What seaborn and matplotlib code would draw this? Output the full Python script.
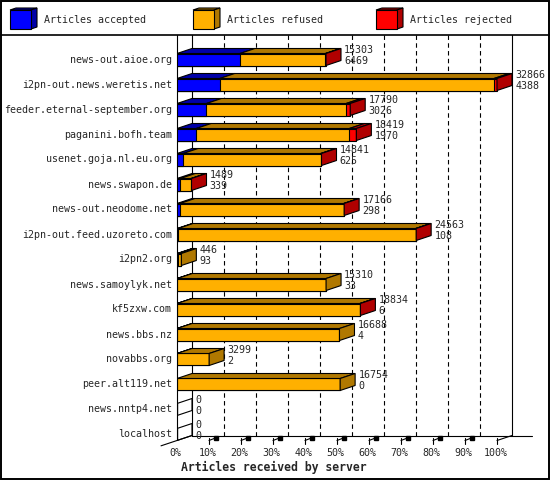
import numpy as np
import matplotlib.pyplot as plt
from matplotlib.patches import Polygon, Rectangle
import seaborn as sns

# Datos (innreport: articulos recibidos por servidor)
servers = ['news-out.aioe.org', 'i2pn-out.news.weretis.net', 'feeder.eternal-september.org',
           'paganini.bofh.team', 'usenet.goja.nl.eu.org', 'news.swapon.de',
           'news-out.neodome.net', 'i2pn-out.feed.uzoreto.com', 'i2pn2.org',
           'news.samoylyk.net', 'kf5zxw.com', 'news.bbs.nz', 'novabbs.org',
           'peer.alt119.net', 'news.nntp4.net', 'localhost']
offered = [15303, 32866, 17790, 18419, 14841, 1489, 17166, 24563, 446, 15310, 18834,
           16688, 3299, 16754, 0, 0]
accepted = [6469, 4388, 3026, 1970, 625, 339, 298, 108, 93, 33, 6, 4, 2, 0, 0, 0]
refused = [8774, 28178, 14344, 15729, 14136, 1120, 16818, 24405, 353, 15277, 18778,
           16684, 3297, 16754, 0, 0]
rejected = [60, 300, 420, 720, 80, 30, 50, 50, 0, 0, 50, 0, 0, 0, 0, 0]
legend_labels = ['Articles accepted', 'Articles refused', 'Articles rejected']
tick_labels = ['0%', '10%', '20%', '30%', '40%', '50%', '60%', '70%', '80%', '90%', '100%']
xlabel = 'Articles received by server'

front = ['#0000ff', '#ffb000', '#ff0000']
dark = ['#0000a8', '#b07800', '#b00000']

sns.set_style('white')
plt.rcParams['font.family'] = ['DejaVu Sans Mono']
FS = 7.2

W, H = 550, 480
fig = plt.figure(figsize=(5.5, 4.8), dpi=100)

# capa de fondo en pixeles: marco y leyenda
bg = fig.add_axes([0, 0, 1, 1])
bg.set_xlim(0, W)
bg.set_ylim(H, 0)
bg.axis('off')
bg.add_patch(Rectangle((1, 1), W - 2, H - 2, fill=False, lw=1.4, ec='black'))
bg.plot([0, W], [35, 35], color='black', lw=1.2)
for k, (lab, fc, dc) in enumerate(zip(legend_labels, front, dark)):
    x0 = 10 + 183 * k
    x1, y0, y1 = x0 + 21, 10, 29
    bg.add_patch(Polygon([(x0, y0), (x1, y0), (x1 + 6, y0 - 2), (x0 + 6, y0 - 2)],
                         fc=dc, ec='black', lw=0.8))
    bg.add_patch(Polygon([(x1, y0), (x1 + 6, y0 - 2), (x1 + 6, y1 - 2), (x1, y1)],
                         fc=dc, ec='black', lw=0.8))
    bg.add_patch(Rectangle((x0, y0), 21, 19, fc=fc, ec='black', lw=0.8))
    bg.text(x0 + 34, 20, lab, fontsize=FS, va='center', ha='left')
bg.text(274, 467, xlabel, fontsize=8.3, fontweight='bold', ha='center', va='center')

# ejes principales: x en %, y en filas
px_x, px_y = 3.2, 25.0
ax = fig.add_axes([177 / W, 1 - 446 / H, 355.2 / W, 411 / H])
ax.patch.set_alpha(0)

tot_max = max(offered)
acc = np.array(accepted) / tot_max * 100
ref = np.array(refused) / tot_max * 100
rej = np.array(rejected) / tot_max * 100

h = 0.48
kw = dict(orient='h', width=h, edgecolor='black', linewidth=0.8, saturation=1, ax=ax)
sns.barplot(x=acc + ref + rej, y=servers, color=front[2], **kw)
sns.barplot(x=acc + ref, y=servers, color=front[1], **kw)
sns.barplot(x=acc, y=servers, color=front[0], **kw)
for p in ax.patches:
    p.set_zorder(2)

ax.set_xlim(0, 111)
ax.set_ylim((446 - 59.5) / px_y, (35 - 59.5) / px_y)
ax.axis('off')
ytop = (35 - 59.5) / px_y
dx, dy = 15 / px_x, 5 / px_y
n = len(servers)
floor = n - 1 + h / 2
bfloor = floor - dy

line = dict(color='black', lw=0.8, clip_on=False, zorder=1)
ax.plot([0, 0], [ytop, floor], **line)
ax.plot([dx, dx], [ytop, bfloor], **line)
ax.plot([100 + dx, 100 + dx], [ytop, bfloor], **line)
ax.plot([dx, 111], [bfloor, bfloor], **line)
ax.plot([-5, dx], [floor + dy * 5 / dx, bfloor], **line)
ax.plot([100, 100 + dx], [floor, bfloor], **line)
for k in range(1, 10):
    ax.plot([10 * k + dx] * 2, [ytop, bfloor], color='black', lw=0.8,
            linestyle=(0, (4, 3)), zorder=0.5)
for k in range(1, 11):
    ax.plot([10 * k, 10 * k], [floor - 0.08, floor + 0.13], **line)
    if k < 10:
        ax.plot([10 * k, 10 * k + 2], [floor, floor - 0.1], **line)
        ax.plot([10 * k + 2.2], [floor - 0.11], marker='s', ms=2.2, color='black', clip_on=False)
for k, lab in enumerate(tick_labels):
    ax.text(10 * k - 0.5, (453 - 59.5) / px_y, lab, fontsize=FS, ha='center', va='center')

# caras 3D de cada barra
for i in range(n):
    yt, yb = i - h / 2, i + h / 2
    segs = [acc[i], ref[i], rej[i]]
    x0, last = 0.0, None
    for s, w in enumerate(segs):
        if w > 0:
            ax.add_patch(Polygon([(x0, yt), (x0 + w, yt), (x0 + w + dx, yt - dy), (x0 + dx, yt - dy)],
                                 fc=dark[s], ec='black', lw=0.8, zorder=3))
            last = s
        x0 += w
    ax.add_patch(Polygon([(x0, yt), (x0 + dx, yt - dy), (x0 + dx, yb - dy), (x0, yb)],
                         fc=dark[last] if last is not None else 'none',
                         ec='black', lw=0.8, zorder=3))
    ax.text(-1.56, i, servers[i], fontsize=FS, ha='right', va='center')
    ax.text(x0 + dx + 1.0, i - 0.38, str(offered[i]), fontsize=FS, ha='left', va='center')
    ax.text(x0 + dx + 1.0, i + 0.06, str(accepted[i]), fontsize=FS, ha='left', va='center')

fig.savefig('out.png', dpi=100)
